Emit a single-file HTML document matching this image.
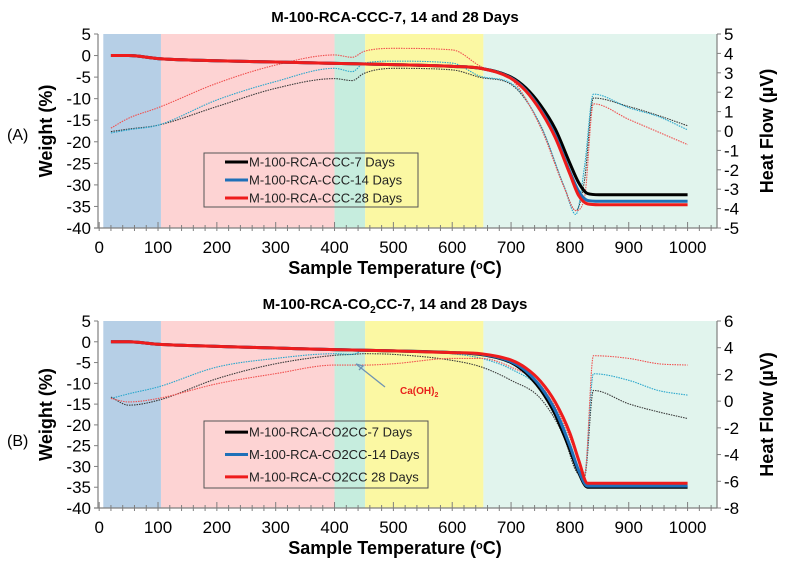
<!DOCTYPE html>
<html><head><meta charset="utf-8">
<style>
body{margin:0;background:#fff;}
svg{display:block;font-family:"Liberation Sans",sans-serif;}
</style></head>
<body>
<svg id="svg" width="790" height="568" viewBox="0 0 790 568" xmlns="http://www.w3.org/2000/svg"></svg>
<script>
// ---- data ----
const bandStarts = [7, 105, 400, 452, 653];
const bandEnds = [105, 400, 452, 653, 1050];
const bandColors = ['#b6cfe6','#fdd3d3','#c6edde','#fbf8a3','#e1f4ed'];
const xTicks = [0,100,200,300,400,500,600,700,800,900,1000];

const wT = [20,50,100,200,300,400,500,600,650,700,725,750,775,800,815,830,850,1000];
const wA7  = [0,0,-0.7,-1.2,-1.5,-1.8,-2.1,-2.5,-3,-5,-7.5,-11.5,-17,-25,-29.5,-32,-32.3,-32.3];
const wA14 = [0,0,-0.7,-1.2,-1.5,-1.8,-2.1,-2.5,-3,-5.2,-8,-12.5,-18.5,-27,-31.5,-33.6,-33.8,-33.8];
const wA28 = [0,0,-0.7,-1.2,-1.5,-1.8,-2.1,-2.5,-3,-5.3,-8.2,-12.8,-19,-27.5,-32.5,-34.4,-34.6,-34.6];
const wB7  = [0,0,-0.6,-1.1,-1.5,-1.9,-2.2,-2.6,-3.1,-5,-7.5,-11.5,-17.5,-26,-31.5,-35,-35,-35];
const wB14 = [0,0,-0.6,-1.1,-1.5,-1.9,-2.2,-2.6,-3,-4.8,-7,-10.8,-16.5,-25,-31,-34.7,-34.7,-34.7];
const wB28 = [0,0,-0.6,-1.1,-1.5,-1.9,-2.2,-2.6,-2.9,-4.4,-6.3,-9.5,-14.5,-22,-28.5,-34.05,-34.05,-34.05];

const hT = [20,50,100,200,300,400,430,450,500,600,650,700,750,790,810,825,840,900,950,1000];
const hA7  = [-0.03,0.1,0.3,1.26,2.2,2.7,2.6,2.97,3.23,3.15,2.75,2.4,0.3,-2.85,-4.1,-2.5,1.7,1.26,0.8,0.27];
const hA14 = [-0.1,0.06,0.3,1.6,2.55,3.23,3.06,3.5,3.6,3.5,2.8,2.46,0.3,-2.85,-4.3,-1.8,1.9,1.2,0.75,0.06];
const hA28 = [0.15,0.66,1.2,2.46,3.4,3.92,3.8,4.1,4.26,4.18,3.3,2.7,0.2,-2.9,-4.1,-3.4,1.4,0.6,-0.05,-0.7];
const hB7  = [0.3,-0.3,0.06,1.68,2.8,3.43,3.5,3.55,3.5,3.05,2.55,1.56,0.2,-2.7,-5.2,-5.6,0.8,-0.2,-0.8,-1.3];
const hB14 = [0.2,0.55,1.06,2.55,3.2,3.55,3.5,3.8,3.8,3.55,3.2,2.4,0.93,-1.9,-4.7,-5.4,2.05,1.56,0.8,0.45];
const hB28 = [0.2,-0.06,0.2,1.3,2.06,2.7,2.7,2.7,2.8,3.2,3.2,2.55,1.2,-1.7,-3.9,-5.5,3.4,3.2,2.8,2.7];

const NS='http://www.w3.org/2000/svg';
const svg=document.getElementById('svg');
function el(tag,attrs,parent){const e=document.createElementNS(NS,tag);for(const k in attrs)e.setAttribute(k,attrs[k]);(parent||svg).appendChild(e);return e;}
function txt(s,attrs,parent){const e=el('text',attrs,parent);e.textContent=s;return e;}
// monotone cubic path
function mono(xs,ys){
  const n=xs.length,d=[],m=[];
  for(let i=0;i<n-1;i++)d.push((ys[i+1]-ys[i])/(xs[i+1]-xs[i]));
  m[0]=d[0];m[n-1]=d[n-2];
  for(let i=1;i<n-1;i++){m[i]=(d[i-1]*d[i]<=0)?0:(d[i-1]+d[i])/2;}
  for(let i=0;i<n-1;i++){if(d[i]===0){m[i]=0;m[i+1]=0;continue;}
    const a=m[i]/d[i],b=m[i+1]/d[i],s=a*a+b*b;if(s>9){const t=3/Math.sqrt(s);m[i]=t*a*d[i];m[i+1]=t*b*d[i];}}
  let p='M'+xs[0]+','+ys[0];
  for(let i=0;i<n-1;i++){const h=(xs[i+1]-xs[i])/3;
    p+=' C'+(xs[i]+h)+','+(ys[i]+m[i]*h)+' '+(xs[i+1]-h)+','+(ys[i+1]-m[i+1]*h)+' '+xs[i+1]+','+ys[i+1];}
  return p;
}

function chart(cfg){
  const g=el('g',{});
  
  
  const x0=98,x1=717,top=cfg.top,bot=cfg.bot;
  const X=t=>x0+(t+2)/1052*(x1-x0);
  const YL=v=>top+(5-v)/45*(bot-top);
  const YR=v=>top+(cfg.rMax-v)/(cfg.rMax-cfg.rMin)*(bot-top);
  for(let i=0;i<bandStarts.length;i++){
    const r=el('rect',{x:X(bandStarts[i]),y:top,width:X(bandEnds[i])-X(bandStarts[i]),height:bot-top,fill:bandColors[i]},g);
    
    
  }
  el('line',{x1:x0,y1:top,x2:x0,y2:bot,stroke:'#7f7f7f','stroke-width':1.2},g);
  el('line',{x1:x1,y1:top,x2:x1,y2:bot,stroke:'#7f7f7f','stroke-width':1.2},g);
  el('line',{x1:x0-4,y1:bot,x2:x1,y2:bot,stroke:'#7f7f7f','stroke-width':1.2},g);
  for(let t=0;t<=1050;t+=20){const big=t%100===0;el('line',{x1:X(t),y1:bot-(big?6:3),x2:X(t),y2:bot+3,stroke:'#7f7f7f','stroke-width':1},g);}
  xTicks.forEach(t=>{const e=txt(String(t),{x:X(t),y:bot+25,'text-anchor':'middle','font-size':17,fill:'#000'},g);});
  for(let v=5;v>=-40;v-=5){
    el('line',{x1:x0-4,y1:YL(v),x2:x0,y2:YL(v),stroke:'#7f7f7f'},g);
    const e=txt(String(v),{x:x0-7,y:YL(v)+6,'text-anchor':'end','font-size':17},g);
    
  }
  for(let v=cfg.rMax;v>=cfg.rMin;v-=cfg.rStep){
    el('line',{x1:x1,y1:YR(v),x2:x1+4,y2:YR(v),stroke:'#7f7f7f'},g);
    const e=txt(String(v),{x:x1+7,y:YR(v)+6,'font-size':17},g);
    
  }
  const hcol=['#3a3a3a','#27a6cc','#f0504f'];
  cfg.heat.forEach((arr,i)=>{
    const p=el('path',{d:mono(hT.map(X),arr.map(YR)),fill:'none',stroke:hcol[i],'stroke-width':1.1,'stroke-dasharray':'1.5 1'},g);
    
  });
  const wcol=['#000000','#1f70b8','#ee1c1c'];
  cfg.wOrder.forEach(i=>{
    const arr=cfg.weight[i];
    const p=el('path',{d:mono(wT.map(X),arr.map(YL)),fill:'none',stroke:wcol[i],'stroke-width':3},g);
    
  });
  const tt=el('text',{x:395,y:top-12,'text-anchor':'middle','font-size':15,'font-weight':'bold'},g);
  tt.innerHTML=cfg.title;
  
  const yl=txt('Weight (%)',{transform:`translate(52,${(top+bot)/2}) rotate(-90)`,'text-anchor':'middle','font-size':18,'font-weight':'bold'},g);
  
  const yr=txt('Heat Flow (\u00b5V)',{transform:`translate(773,${(top+bot)/2}) rotate(-90)`,'text-anchor':'middle','font-size':18,'font-weight':'bold'},g);
  
  const xl=el('text',{x:395,y:bot+46,'text-anchor':'middle','font-size':18,'font-weight':'bold'},g);
  xl.innerHTML='Sample Temperature  (<tspan font-size="11" dy="-5">o</tspan><tspan dy="5">C)</tspan>';
  
  const pl=txt(cfg.panel,{x:7,y:cfg.panelY,'font-size':16},g);
  
  const lg=el('g',{},g);
  
  el('rect',{x:204,y:cfg.legY,width:cfg.legW,height:cfg.legH,fill:'none',stroke:'#555','stroke-width':1},lg);
  cfg.labels.forEach((s,i)=>{
    const yy=cfg.legY+cfg.legH/6*(2*i+1);
    el('line',{x1:225,y1:yy,x2:248,y2:yy,stroke:wcol[i],'stroke-width':3},lg);
    const e=txt(s,{x:249,y:yy+4.5,'font-size':13,fill:'#222'},lg);
    
  });
  return {X,YL,YR,g};
}

chart({name:'chart-a',top:34,bot:228,rMax:5,rMin:-5,rStep:1,heat:[hA7,hA14,hA28],weight:[wA7,wA14,wA28],wOrder:[0,1,2],
  title:'M-100-RCA-CCC-7, 14 and 28 Days',panel:'(A)',panelY:140,legY:153,legW:214,legH:54,
  labels:['M-100-RCA-CCC-7 Days','M-100-RCA-CCC-14 Days','M-100-RCA-CCC-28 Days']});
const b=chart({name:'chart-b',top:321,bot:508,rMax:6,rMin:-8,rStep:2,heat:[hB7,hB14,hB28],weight:[wB7,wB14,wB28],wOrder:[0,1,2],
  title:'M-100-RCA-CO<tspan font-size="10" dy="4">2</tspan><tspan dy="-4">CC-7, 14 and 28 Days</tspan>',panel:'(B)',panelY:446,legY:421,legW:224,legH:67,
  labels:['M-100-RCA-CO2CC-7 Days','M-100-RCA-CO2CC-14 Days','M-100-RCA-CO2CC 28 Days']});
const ar=el('line',{x1:385,y1:387,x2:356,y2:364,stroke:'#6f93b3','stroke-width':1.3},b.g);

el('polyline',{points:'356,364 363,366 359,370',fill:'none',stroke:'#6f93b3','stroke-width':1.3},b.g);
const an=el('text',{x:400,y:394,'font-size':10,'font-weight':'bold',fill:'#e8221c'},b.g);
an.innerHTML='Ca(OH)<tspan font-size="7" dy="3">2</tspan>';

</script>
</body></html>
